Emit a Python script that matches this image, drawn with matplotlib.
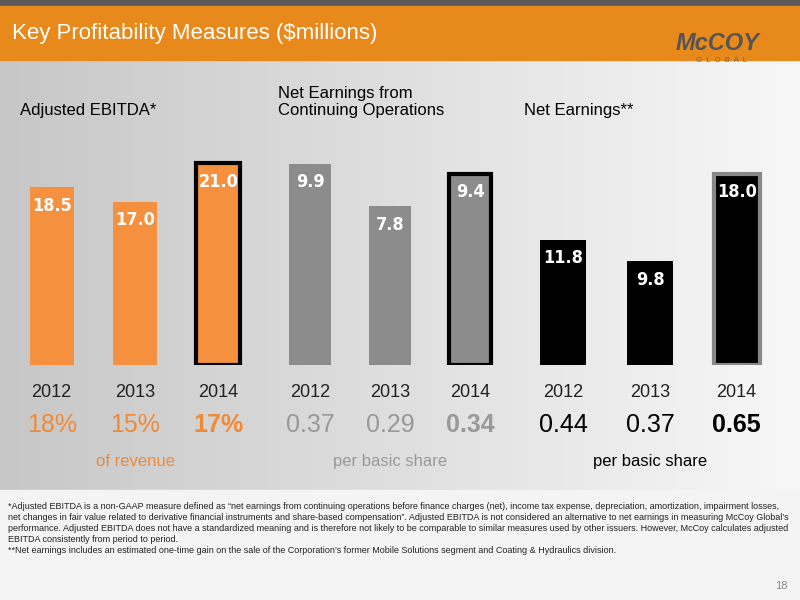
import matplotlib

matplotlib.use("Agg")
import matplotlib.pyplot as plt
import numpy as np

plt.rcParams["font.family"] = ["Liberation Sans", "DejaVu Sans"]

years = ["2012", "2013", "2014"]
ebitda = [18.5, 17.0, 21.0]
net_cont = [9.9, 7.8, 9.4]
net_earn = [11.8, 9.8, 18.0]
margin_labels = ["18%", "15%", "17%"]
cont_eps = ["0.37", "0.29", "0.34"]
net_eps = ["0.44", "0.37", "0.65"]

W, H = 800, 600
fig = plt.figure(figsize=(8, 6), dpi=100)

# background
bg = fig.add_axes([0, 0, 1, 1])
bg.set_xlim(0, W)
bg.set_ylim(H, 0)
bg.axis("off")
grad = np.linspace(0.78, 0.97, 256).reshape(1, -1)
bg.imshow(np.dstack([grad] * 3), extent=[0, W, 490, 60], aspect="auto")
bg.add_patch(plt.Rectangle((0, 490), W, 110, color="#f4f4f4"))
bg.add_patch(plt.Rectangle((0, 0), W, 6, color="#5a5a5a"))
bg.add_patch(plt.Rectangle((0, 6), W, 54, color="#e8891c"))
bg.text(12, 33, "Key Profitability Measures ($millions)", color="white", fontsize=16, va="center")
bg.text(718, 44, "McCOY", color="#555555", fontsize=17, fontweight="bold", va="center", ha="center",
        fontstyle="italic")
bg.text(722, 61, "G  L  O  B  A  L", color="#666666", fontsize=5.5, va="center", ha="center")

panels = [
    (ebitda, 10, 260, 25.0, "#f5913e", "black", "Adjusted EBITDA*", 20, margin_labels, "#f08a36", "of revenue"),
    (net_cont, 270, 510, 11.8, "#8c8c8c", "black", "Net Earnings from\nContinuing Operations", 278, cont_eps,
     "#999999", "per basic share"),
    (net_earn, 520, 780, 22.6, "black", "#888888", "Net Earnings**", 524, net_eps, "black", "per basic share"),
]
x = np.arange(3)
for vals, left, right, ymax, color, hi_edge, title, tx, sub, sub_col, sub_txt in panels:
    ax = fig.add_axes([left / W, 1 - 365 / H, (right - left) / W, 240 / H])
    ax.set_xlim(-0.5, 2.5)
    ax.set_ylim(0, ymax)
    ax.axis("off")
    bars = ax.bar(x, vals, width=0.53, color=color)
    bars[2].set_edgecolor(hi_edge)
    bars[2].set_linewidth(3)
    for xi, v in zip(x, vals):
        ax.text(xi, v - ymax * 0.04, f"{v:.1f}", color="white", fontsize=13, fontweight="bold",
                ha="center", va="top", family="DejaVu Sans", fontstretch="condensed")
    bg.text(tx, 118, title, fontsize=12, ha="left", va="bottom", linespacing=1.15)
    for xi, y, s in zip(x, years, sub):
        ax.text(xi, -ymax * 0.08, y, ha="center", va="top", fontsize=13, color="#222222")
        ax.text(xi, -ymax * 0.2, s, ha="center", va="top", fontsize=18, color=sub_col,
                fontweight="bold" if s == sub[2] else "normal")
    ax.text(1, -ymax * 0.37, sub_txt, ha="center", va="top", fontsize=12, color=sub_col)

foot = ("*Adjusted EBITDA is a non-GAAP measure defined as \u201cnet earnings from continuing operations before finance charges (net), income tax expense, depreciation, amortization, impairment losses,\n"
        "net changes in fair value related to derivative financial instruments and share-based compensation\u201d. Adjusted EBITDA is not considered an alternative to net earnings in measuring McCoy Global\u2019s\n"
        "performance. Adjusted EBITDA does not have a standardized meaning and is therefore not likely to be comparable to similar measures used by other issuers. However, McCoy calculates adjusted\n"
        "EBITDA consistently from period to period.\n"
        "**Net earnings includes an estimated one-time gain on the sale of the Corporation\u2019s former Mobile Solutions segment and Coating & Hydraulics division.")
bg.text(8, 502, foot, fontsize=6.5, va="top", ha="left", color="#222222", linespacing=1.3)
bg.text(788, 586, "18", fontsize=8, color="#888888", ha="right", va="center")

fig.savefig("out.png", dpi=100)
